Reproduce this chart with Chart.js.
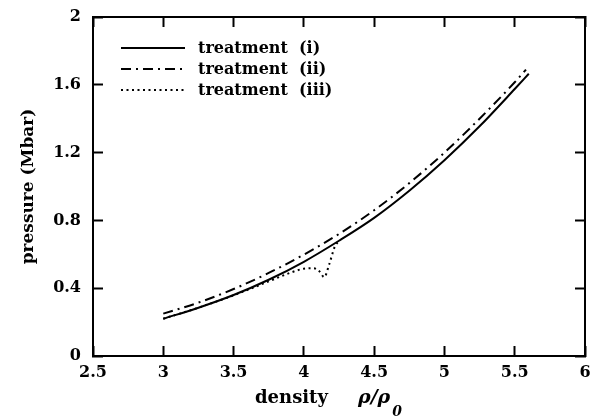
<!DOCTYPE html>
<html>
<head>
<meta charset="utf-8">
<script src="https://cdn.jsdelivr.net/npm/chart.js@4"></script>
<style>
  body { margin: 0; background: #fff; }
  canvas { display: block; }
</style>
</head>
<body>
<canvas id="eosChart" width="593" height="418"></canvas>
<script>
// density rho/rho0 and pressure (Mbar) for the three treatments
const densityI = [3.0, 3.25, 3.5, 3.75, 4.0, 4.25, 4.5, 4.75, 5.0, 5.25, 5.5, 5.6];
const pressureI = [0.22, 0.285, 0.36, 0.45, 0.556, 0.68, 0.815, 0.975, 1.155, 1.355, 1.575, 1.665];

const densityII = [3.0, 3.25, 3.5, 3.75, 4.0, 4.25, 4.5, 4.75, 5.0, 5.25, 5.5, 5.58];
const pressureII = [0.25, 0.315, 0.395, 0.49, 0.598, 0.72, 0.86, 1.02, 1.2, 1.4, 1.615, 1.69];

const densityIII = [3.0, 3.25, 3.5, 3.75, 3.9, 4.0, 4.07, 4.11, 4.145, 4.18, 4.22, 4.25];
const pressureIII = [0.22, 0.285, 0.358, 0.44, 0.49, 0.515, 0.518, 0.5, 0.465, 0.54, 0.645, 0.68];

const seriesNames = ['treatment  (i)', 'treatment  (ii)', 'treatment  (iii)'];

const xTicks = [2.5, 3, 3.5, 4, 4.5, 5, 5.5, 6];
const yTicks = [0, 0.4, 0.8, 1.2, 1.6, 2];

const FONT = 'DejaVu Serif';

function toPoints(xs, ys) {
    return xs.map((x, i) => ({ x: x, y: ys[i] }));
}

// legend drawn inside the plot, top left
const legendInside = {
    id: 'legendInside',
    afterDatasetsDraw(chart) {
        const ctx = chart.ctx;
        const rows = [48, 69, 90];
        ctx.save();
        chart.data.datasets.forEach((ds, i) => {
            ctx.strokeStyle = ds.borderColor;
            ctx.lineWidth = ds.borderWidth;
            ctx.setLineDash(ds.borderDash || []);
            ctx.beginPath();
            ctx.moveTo(121, rows[i]);
            ctx.lineTo(185, rows[i]);
            ctx.stroke();
            ctx.setLineDash([]);
            ctx.fillStyle = '#000';
            ctx.font = 'bold 16px "' + FONT + '"';
            ctx.textBaseline = 'middle';
            ctx.fillText(ds.label, 198, rows[i] + 1);
        });
        ctx.restore();
    }
};

// x axis title with italic rho and subscript zero
const densityTitle = {
    id: 'densityTitle',
    afterDraw(chart) {
        const ctx = chart.ctx;
        ctx.save();
        ctx.fillStyle = '#000';
        ctx.textBaseline = 'alphabetic';
        ctx.font = 'bold 18px "' + FONT + '"';
        ctx.fillText('density', 255, 403);
        ctx.font = 'italic bold 19px "' + FONT + '"';
        ctx.fillText('ρ/ρ', 358, 403);
        const w = ctx.measureText('ρ/ρ').width;
        ctx.font = 'italic bold 14px "' + FONT + '"';
        ctx.fillText('0', 358 + w + 2, 416);
        ctx.restore();
    }
};

const tickFont = { family: FONT, size: 16, weight: 'bold' };
const frame = { display: true, color: '#000', width: 2 };
const inwardGrid = { drawOnChartArea: false, tickLength: -10, tickWidth: 2, color: '#000' };
const plainNumber = v => String(v);

// fixed axis sizes; the label overhang is not allowed to shrink the plot
function fixSize(prop, size) {
    return s => {
        s[prop] = size;
        s.paddingLeft = s.paddingRight = s.paddingTop = s.paddingBottom = 0;
    };
}

new Chart(document.getElementById('eosChart').getContext('2d'), {
    type: 'line',
    data: {
        datasets: [{
            label: seriesNames[0],
            data: toPoints(densityI, pressureI),
            borderColor: '#000',
            borderWidth: 2,
            pointRadius: 0,
            cubicInterpolationMode: 'monotone'
        }, {
            label: seriesNames[1],
            data: toPoints(densityII, pressureII),
            borderColor: '#000',
            borderWidth: 2,
            borderDash: [10, 5, 2, 5],
            pointRadius: 0,
            cubicInterpolationMode: 'monotone'
        }, {
            label: seriesNames[2],
            data: toPoints(densityIII, pressureIII),
            borderColor: '#000',
            borderWidth: 2,
            borderDash: [2, 3.5],
            pointRadius: 0,
            cubicInterpolationMode: 'monotone'
        }]
    },
    options: {
        responsive: false,
        animation: false,
        layout: { padding: 0, autoPadding: false },
        plugins: {
            legend: { display: false },
            tooltip: { enabled: false }
        },
        scales: {
            x: {
                type: 'linear',
                position: 'bottom',
                min: xTicks[0],
                max: xTicks[xTicks.length - 1],
                afterBuildTicks: s => { s.ticks = xTicks.map(v => ({ value: v })); },
                ticks: { color: '#000', font: tickFont, padding: 17, maxRotation: 0, callback: plainNumber },
                grid: inwardGrid,
                border: frame,
                afterFit: fixSize('height', 62)
            },
            x2: {
                type: 'linear',
                position: 'top',
                min: xTicks[0],
                max: xTicks[xTicks.length - 1],
                afterBuildTicks: s => { s.ticks = xTicks.map(v => ({ value: v })); },
                ticks: { display: false },
                grid: inwardGrid,
                border: frame,
                afterFit: fixSize('height', 17)
            },
            y: {
                type: 'linear',
                position: 'left',
                min: yTicks[0],
                max: yTicks[yTicks.length - 1],
                afterBuildTicks: s => { s.ticks = yTicks.map(v => ({ value: v })); },
                ticks: { color: '#000', font: tickFont, padding: 22, callback: plainNumber },
                grid: inwardGrid,
                border: frame,
                title: {
                    display: true,
                    text: 'pressure (Mbar)',
                    color: '#000',
                    font: { family: FONT, size: 17, weight: 'bold' },
                    padding: { top: 18, bottom: 0 }
                },
                afterFit: fixSize('width', 93)
            },
            y2: {
                type: 'linear',
                position: 'right',
                min: yTicks[0],
                max: yTicks[yTicks.length - 1],
                afterBuildTicks: s => { s.ticks = yTicks.map(v => ({ value: v })); },
                ticks: { display: false },
                grid: inwardGrid,
                border: frame,
                afterFit: fixSize('width', 8)
            }
        }
    },
    plugins: [legendInside, densityTitle]
});
</script>
</body>
</html>
